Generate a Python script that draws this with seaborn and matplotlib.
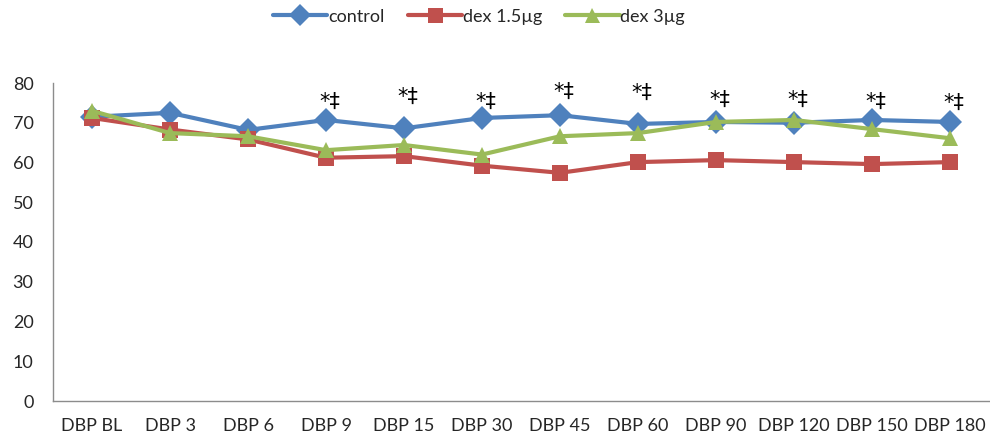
import numpy as np
import pandas as pd
import seaborn as sns
import matplotlib.pyplot as plt

# dados
tempos = ['DBP BL', 'DBP 3', 'DBP 6', 'DBP 9', 'DBP 15', 'DBP 30', 'DBP 45',
          'DBP 60', 'DBP 90', 'DBP 120', 'DBP 150', 'DBP 180']
controle = [71.5, 72.5, 68.2, 70.7, 68.6, 71.2, 71.9, 69.7, 70.2, 70.0, 70.7, 70.2]
dex_15 = [71.2, 68.3, 65.8, 61.2, 61.6, 59.2, 57.4, 60.1, 60.6, 60.1, 59.6, 60.1]
dex_3 = [73.0, 67.4, 66.6, 63.1, 64.4, 62.0, 66.6, 67.4, 70.2, 70.7, 68.4, 66.1]
grupos = ['control', 'dex 1.5µg', 'dex 3µg']

# marcas de significancia
sig_tempos = ['DBP 9', 'DBP 15', 'DBP 30', 'DBP 45', 'DBP 60', 'DBP 90',
              'DBP 120', 'DBP 150', 'DBP 180']
sig_altura = [72.7, 74.0, 72.7, 75.2, 75.0, 73.2, 73.2, 72.7, 72.5]

df = pd.DataFrame({
    'tempo': pd.Categorical(tempos * 3, categories=tempos, ordered=True),
    'DBP': controle + dex_15 + dex_3,
    'grupo': [g for g in grupos for _ in tempos],
})

sns.set_style('white')
plt.rcParams['font.family'] = ['Lato', 'DejaVu Sans']

fig = plt.figure(figsize=(9.9, 4.41), dpi=100)
ax = fig.add_axes([53 / 990, 1 - 401 / 441, 1 - 53 / 990 - 0.001, (401 - 83) / 441])

cores = {'control': '#4F81BD', 'dex 1.5µg': '#C0504D', 'dex 3µg': '#9BBB59'}
marcadores = {'control': 'D', 'dex 1.5µg': 's', 'dex 3µg': '^'}

sns.lineplot(data=df, x='tempo', y='DBP', hue='grupo', style='grupo',
             palette=cores, markers=marcadores, dashes=False, sort=False,
             linewidth=3, markersize=12, markeredgewidth=0, ax=ax)

for t, h in zip(sig_tempos, sig_altura):
    ax.text(tempos.index(t) + 0.05, h, '*‡', ha='center', va='bottom',
            fontsize=15, color='black', family=['DejaVu Sans'])

ax.set_xlim(-0.5, len(tempos) - 0.5)
ax.set_ylim(0, 80)
ax.set_yticks(range(0, 81, 10))
ax.set_xticks(range(len(tempos)))
ax.set_xticklabels(tempos)
ax.set_xticks(np.arange(-0.5, len(tempos), 1), minor=True)
ax.tick_params(axis='x', which='major', length=0, labelsize=13, pad=12)
ax.tick_params(axis='x', which='minor', length=6, color='#8c8c8c', direction='out', width=1)
ax.tick_params(axis='y', length=6, color='#8c8c8c', direction='out', width=1, labelsize=13, pad=8)
ax.set_xlabel('')
ax.set_ylabel('')

for lado in ['top', 'right']:
    ax.spines[lado].set_visible(False)
for lado in ['left', 'bottom']:
    ax.spines[lado].set_color('#8c8c8c')
    ax.spines[lado].set_linewidth(1)

ax.legend(loc='upper center', bbox_to_anchor=(0.455, 1.285), ncol=3, frameon=False,
          fontsize=13, handlelength=3.0, columnspacing=1.3, handletextpad=0.05,
          markerscale=0.9)

fig.savefig('out.png', dpi=100)
